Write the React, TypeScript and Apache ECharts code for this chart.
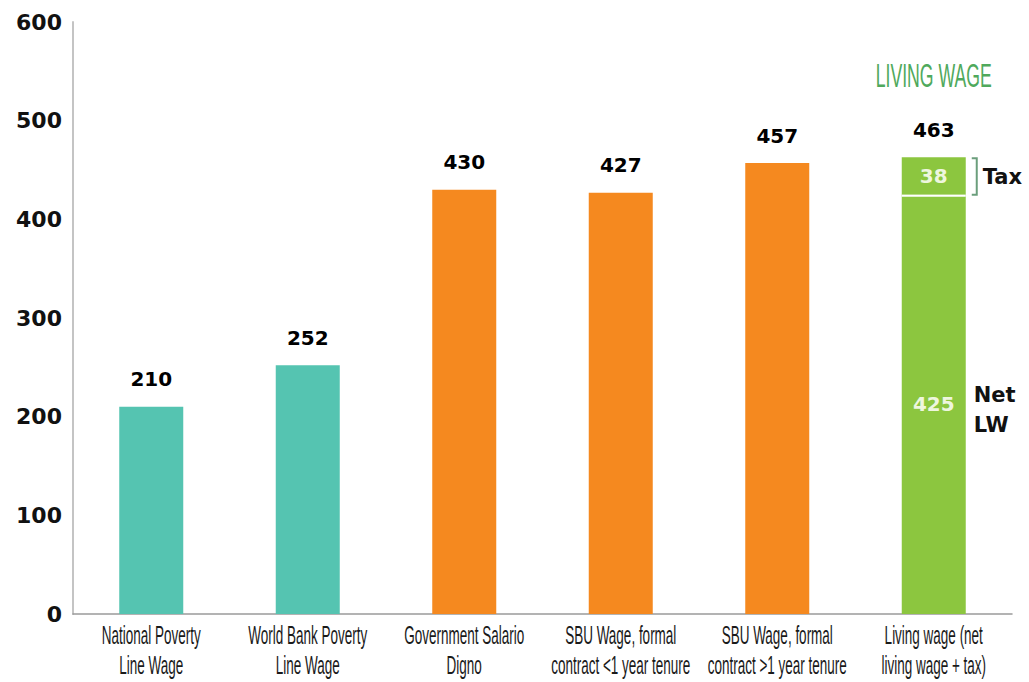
import React, { useEffect, useRef } from "react";
import * as echarts from "echarts";

const categories = [
  "National Poverty\nLine Wage",
  "World Bank Poverty\nLine Wage",
  "Government Salario\nDigno",
  "SBU Wage, formal\ncontract <1 year tenure",
  "SBU Wage, formal\ncontract >1 year tenure",
  "Living wage (net\nliving wage + tax)",
];
const benchmarkWages: (number | string)[] = [210, 252, 430, 427, 457, "-"];
const benchmarkColors = ["#55c4b1", "#55c4b1", "#f5891f", "#f5891f", "#f5891f", "#f5891f"];
const netLivingWage: (number | string)[] = ["-", "-", "-", "-", "-", 425];
const livingWageTax: (number | string)[] = ["-", "-", "-", "-", "-", 38];
const totals = [210, 252, 430, 427, 457, 463];
const yTicks = { min: 0, max: 600, interval: 100 };

const GREEN = "#8cc63f";
const NARROW = '"Liberation Sans", Arial, sans-serif';
const BOLD = '"DejaVu Sans", "Noto Sans", sans-serif';

export default function App() {
  const ref = useRef<HTMLDivElement>(null);
  useEffect(() => {
    if (!ref.current) return;
    const chart = echarts.init(ref.current, null, { renderer: "svg" });
    chart.setOption({
      animation: false,
      backgroundColor: "#ffffff",
      grid: { left: 73, right: 17, top: 22, bottom: 68, containLabel: false },
      xAxis: {
        type: "category",
        data: categories,
        axisLine: { lineStyle: { color: "#9a9a9a", width: 1.5 } },
        axisTick: { show: false },
        axisLabel: { show: false },
      },
      yAxis: {
        type: "value",
        min: yTicks.min,
        max: yTicks.max,
        interval: yTicks.interval,
        splitLine: { show: false },
        axisTick: { show: false },
        axisLine: { show: true, lineStyle: { color: "#c4c4c4", width: 2 } },
        axisLabel: {
          fontFamily: BOLD,
          fontWeight: "bold",
          fontSize: 22,
          color: "#111",
          margin: 11,
        },
      },
      series: [
        {
          name: "Benchmarks",
          type: "bar",
          barWidth: 64,
          barGap: "-100%",
          data: benchmarkWages.map((v, i) => ({ value: v, itemStyle: { color: benchmarkColors[i] } })),
        },
        {
          name: "Net LW",
          type: "bar",
          stack: "lw",
          barWidth: 64,
          barGap: "-100%",
          itemStyle: { color: GREEN },
          label: {
            show: true,
            position: "inside",
            fontFamily: BOLD,
            fontWeight: "bold",
            fontSize: 20,
            color: "#eef6de",
          },
          data: netLivingWage,
        },
        {
          name: "Tax",
          type: "bar",
          stack: "lw",
          barWidth: 64,
          barGap: "-100%",
          itemStyle: { color: GREEN },
          label: {
            show: true,
            position: "inside",
            fontFamily: BOLD,
            fontWeight: "bold",
            fontSize: 20,
            color: "#eef6de",
          },
          data: livingWageTax,
        },
        {
          name: "Total",
          type: "scatter",
          symbolSize: 1,
          itemStyle: { color: "rgba(0,0,0,0)", opacity: 1 },
          label: {
            show: true,
            position: "top",
            distance: 17,
            fontFamily: BOLD,
            fontWeight: "bold",
            fontSize: 20,
            color: "#000",
            opacity: 1,
            formatter: "{c}",
          },
          data: totals,
        },
      ],
    });

    const conv = (i: number, v: number) =>
      chart.convertToPixel({ xAxisIndex: 0, yAxisIndex: 0 }, [i, v]) as number[];
    const pNet = conv(5, netLivingWage[5] as number);
    const pTop = conv(5, totals[5]);
    const pMid = conv(5, (netLivingWage[5] as number) / 2);
    const cx = pNet[0];
    const catLabels = categories.map((c, i) => {
      const p = conv(i, 0);
      return {
        type: "text",
        x: p[0],
        y: p[1] + 6,
        scaleX: 0.54,
        style: {
          text: c,
          fontFamily: NARROW,
          fontSize: 25,
          lineHeight: 30,
          fill: "#1a1a1a",
          align: "center",
          verticalAlign: "top",
        },
      };
    });
    chart.setOption({
      graphic: [
        ...catLabels,
        {
          type: "line",
          shape: { x1: cx - 32, y1: pNet[1] + 1, x2: cx + 32, y2: pNet[1] + 1 },
          style: { stroke: "#ffffff", lineWidth: 2 },
          z: 100,
        },
        {
          type: "polyline",
          shape: {
            points: [
              [cx + 38, pTop[1] + 1],
              [cx + 43, pTop[1] + 1],
              [cx + 43, pNet[1]],
              [cx + 38, pNet[1]],
            ],
          },
          style: { stroke: "#6b9e7c", lineWidth: 2, fill: "none" },
        },
        {
          type: "text",
          x: cx + 49,
          y: (pTop[1] + pNet[1]) / 2 + 1,
          style: {
            text: "Tax",
            fontFamily: BOLD,
            fontWeight: "bold",
            fontSize: 21,
            fill: "#111",
            align: "left",
            verticalAlign: "middle",
          },
        },
        {
          type: "text",
          x: cx + 40,
          y: pMid[1] + 6,
          style: {
            text: "Net\nLW",
            fontFamily: BOLD,
            fontWeight: "bold",
            fontSize: 21,
            lineHeight: 30,
            fill: "#111",
            align: "left",
            verticalAlign: "middle",
          },
        },
        {
          type: "text",
          x: cx,
          y: 75,
          scaleX: 0.52,
          style: {
            text: "LIVING WAGE",
            fontFamily: NARROW,
            fontSize: 34,
            fill: "#4fa95c",
            align: "center",
            verticalAlign: "middle",
          },
        },
      ],
    });
    return () => chart.dispose();
  }, []);
  return (
    <div
      ref={ref}
      style={{ position: "absolute", left: 0, top: 0, width: 1029, height: 682 }}
    />
  );
}
